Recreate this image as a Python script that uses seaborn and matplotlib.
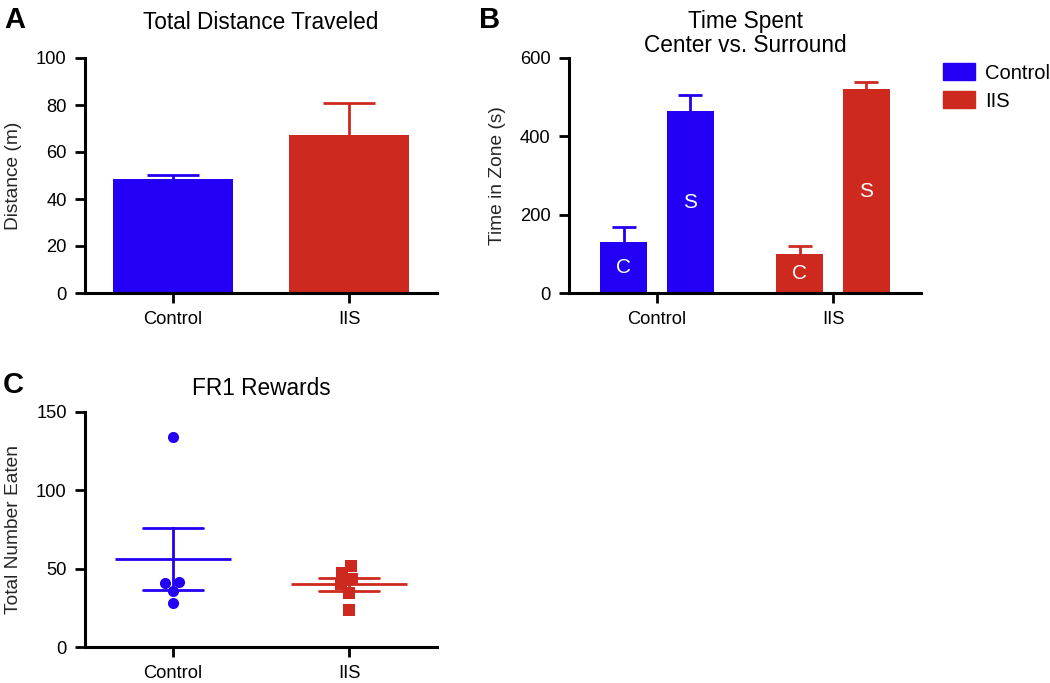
import numpy as np
import pandas as pd
import matplotlib
matplotlib.use('Agg')
import matplotlib.pyplot as plt
import matplotlib.patches as mpatches
import seaborn as sns

# data
groups = ['Control', 'IIS']
zones = ['C', 'S']

dist_mean = [48.3, 67.2]
dist_sem = [1.9, 13.7]

zone_mean = {'Control': [131, 464], 'IIS': [100, 520]}
zone_sem = {'Control': [38, 41], 'IIS': [20, 18]}

fr1_control = [134.2, 41.7, 40.7, 35.7, 27.9]
fr1_iis = [51.9, 47.4, 43.2, 40.0, 34.7, 23.6]

blue = '#2300f5'
red = '#cd291e'
colors = {'Control': blue, 'IIS': red}

sns.set_theme(style='ticks')
plt.rcParams['font.family'] = ['Liberation Sans', 'DejaVu Sans']
plt.rcParams.update({
    'axes.linewidth': 2.2,
    'xtick.major.width': 2.0, 'ytick.major.width': 2.0,
    'xtick.major.size': 7.2, 'ytick.major.size': 7.2,
    'xtick.major.pad': 6, 'ytick.major.pad': 6,
    'xtick.labelsize': 13.2, 'ytick.labelsize': 13.2,
    'axes.labelsize': 13.8, 'axes.edgecolor': 'black',
    'xtick.color': 'black', 'ytick.color': 'black', 'text.color': 'black',
})

fig = plt.figure(figsize=(10.5, 6.83), dpi=100)
W, H = 1050, 683


def rect(x0, x1, ytop, ybot):
    return [x0 / W, 1 - ybot / H, (x1 - x0) / W, (ybot - ytop) / H]


def up_errbars(ax, patches, sems, capsize):
    # GraphPad style: only the upper half of the error bar
    for p, s in zip(patches, sems):
        xc = p.get_x() + p.get_width() / 2
        eb = ax.errorbar(xc, p.get_height(), yerr=[[0], [s]], fmt='none',
                         ecolor=p.get_facecolor(), elinewidth=2.0, capsize=capsize,
                         capthick=2.0, zorder=1)
        for cap in eb[1]:
            if cap.get_ydata()[0] <= p.get_height():
                cap.set_visible(False)


def style(ax):
    sns.despine(ax=ax)
    ax.set_xlim(-0.5, 1.5)
    ax.set_xlabel('')


# A: total distance
axA = fig.add_axes(rect(85, 437, 58, 293))
sns.barplot(x=groups, y=dist_mean, hue=groups, palette=colors, width=0.68,
            saturation=1, linewidth=0, legend=False, ax=axA)
bars = [p for c in list(axA.containers) for p in c]
up_errbars(axA, bars, dist_sem, 19)
style(axA)
axA.set_ylim(0, 100)
axA.set_yticks(np.arange(0, 101, 20))
axA.set_ylabel('Distance (m)', labelpad=10)
axA.set_title('Total Distance Traveled', fontsize=16.3, pad=21)

# B: time in zone
df_b = pd.DataFrame([(g, z, zone_mean[g][i]) for g in groups for i, z in enumerate(zones)],
                    columns=['group', 'zone', 'time'])
axB = fig.add_axes(rect(569, 921, 58, 293))
sns.barplot(data=df_b, x='group', y='time', hue='zone', order=groups, hue_order=zones,
            width=0.76, gap=0.29, saturation=1, linewidth=0, legend=False, ax=axB)
bar_conts = list(axB.containers)
for i, cont in enumerate(bar_conts):
    for g, p in zip(groups, cont):
        p.set_facecolor(colors[g])
    up_errbars(axB, cont, [zone_sem[g][i] for g in groups], 8.5)
    axB.bar_label(cont, labels=[zones[i]] * len(groups), label_type='center',
                  color='white', fontsize=15)
style(axB)
axB.set_ylim(0, 600)
axB.set_yticks(np.arange(0, 601, 200))
axB.set_ylabel('Time in Zone (s)', labelpad=10)
axB.set_title('Time Spent\nCenter vs. Surround', fontsize=16.3, pad=4.5, linespacing=1.05)

fig.legend(handles=[mpatches.Patch(color=blue, label='Control'),
                    mpatches.Patch(color=red, label='IIS')],
           loc='upper left', bbox_to_anchor=(943 / W, 1 - 63 / H), frameon=False,
           fontsize=14.5, handlelength=1.6, handleheight=0.95, handletextpad=0.5,
           labelspacing=0.42, borderpad=0, borderaxespad=0)

# C: FR1 rewards
df_c = pd.DataFrame({'group': ['Control'] * len(fr1_control) + ['IIS'] * len(fr1_iis),
                     'eaten': fr1_control + fr1_iis})
axC = fig.add_axes(rect(85, 437, 412, 647))
for g, m in zip(groups, ['o', 's']):
    sns.swarmplot(data=df_c[df_c.group == g], x='group', y='eaten', order=groups,
                  color=colors[g], marker=m, size=8, linewidth=0, ax=axC)
sns.pointplot(data=df_c, x='group', y='eaten', order=groups, hue='group', palette=colors,
              errorbar='se', capsize=0.34, linestyle='none', marker='_', markersize=84,
              markeredgewidth=2.0, err_kws={'linewidth': 2.0}, legend=False, ax=axC)
style(axC)
axC.set_ylim(0, 150)
axC.set_yticks(np.arange(0, 151, 50))
axC.set_ylabel('Total Number Eaten', labelpad=10)
axC.set_title('FR1 Rewards', fontsize=16.3, pad=12)

for lab, x, y in [('A', 4, 28), ('B', 479, 28), ('C', 3, 393)]:
    fig.text(x / W, 1 - y / H, lab, fontsize=21, fontweight='bold', va='baseline')

fig.savefig('out.png', dpi=100)
